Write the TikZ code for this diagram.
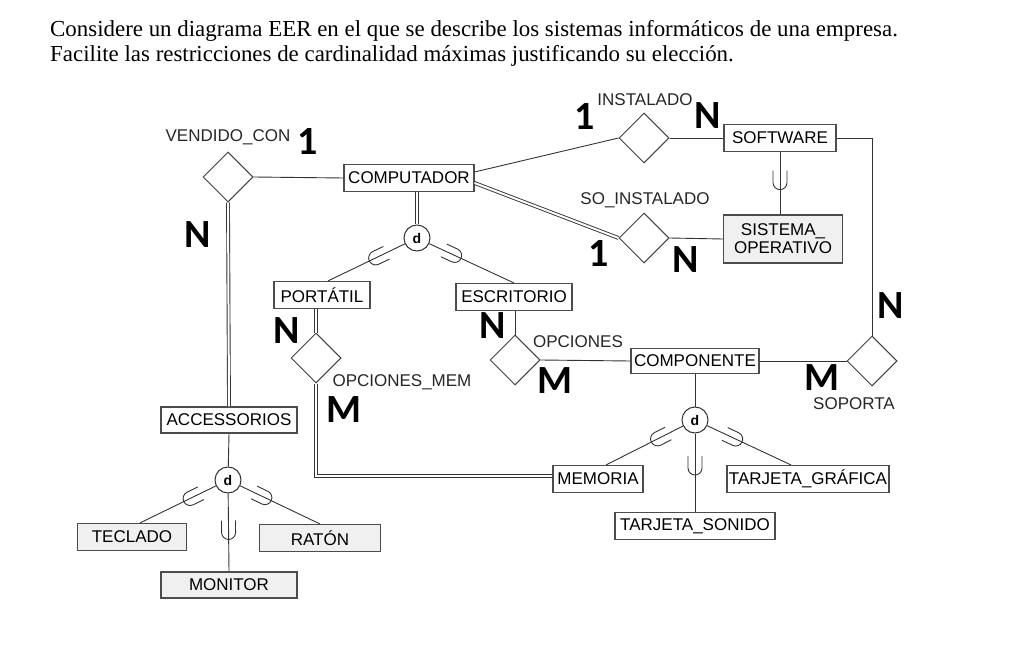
\documentclass[tikz,border=0pt]{standalone}
\usepackage{fontspec}
\setmainfont{Liberation Serif}
\newfontfamily\erfont{Liberation Sans}
\newfontfamily\cardfont{Carlito}
\usetikzlibrary{shapes.geometric}
\tikzset{
  ent/.style={rectangle,draw=black!70,line width=1.1pt,fill=white,inner sep=2pt,minimum height=27,font=\erfont\fontsize{17}{18}\selectfont},
  grey/.style={fill=black!6},
  rel/.style={diamond,draw=black!75,line width=1pt,fill=white,inner sep=0pt,minimum width=50,minimum height=50},
  spec/.style={circle,draw=black!80,line width=1pt,fill=white,inner sep=0pt,minimum size=26,font=\erfont\bfseries\fontsize{14}{14}\selectfont},
  lbl/.style={font=\erfont\fontsize{17}{18}\selectfont,text=black!85},
  card/.style={font=\cardfont\bfseries\fontsize{40}{40}\selectfont},
  link/.style={draw=black!80,line width=0.9pt},
  total/.style={link,double,double distance=2pt},
  subs/.pic={\draw[black!80,line width=0.9pt] (-12,7) -- (0,7) arc[start angle=90,end angle=-90,radius=7] -- (-12,-7);}
}

\begin{document}
\begin{tikzpicture}[x=1pt,y=-1pt,allow upside down]
\useasboundingbox (0,0) rectangle (1028,647);

% enunciado
\node[anchor=base west,inner sep=0pt,font=\fontsize{22.9}{25}\selectfont] (head1) at (50,37) {Considere un diagrama EER en el que se describe los sistemas informáticos de una empresa.};
\node[anchor=base west,inner sep=0pt,font=\fontsize{22.9}{25}\selectfont] (head2) at (50,62) {Facilite las restricciones de cardinalidad máximas justificando su elección.};

% entidades
\node[ent,minimum width=130] (COMPUTADOR) at (409,178) {COMPUTADOR};
\node[ent,minimum width=96] (PORTATIL) at (322,295) {PORTÁTIL};
\node[ent,minimum width=116] (ESCRITORIO) at (514,297) {ESCRITORIO};
\node[ent,minimum width=112] (SOFTWARE) at (780,138) {SOFTWARE};
\node[ent,grey,minimum width=119,minimum height=48,align=center] (SISTEMA) at (783,239) {SISTEMA\_\\OPERATIVO};
\node[ent,minimum width=128,minimum height=25] (COMPONENTE) at (695,361) {COMPONENTE};
\node[ent,minimum width=90] (MEMORIA) at (598,479) {MEMORIA};
\node[ent,minimum width=162] (GRAFICA) at (808,479) {TARJETA\_GRÁFICA};
\node[ent,minimum width=160] (SONIDO) at (695,526) {TARJETA\_SONIDO};
\node[ent,minimum width=136,minimum height=26] (ACCESSORIOS) at (229,420) {ACCESSORIOS};
\node[ent,grey,minimum width=109] (TECLADO) at (132,537) {TECLADO};
\node[ent,grey,minimum width=121] (RATON) at (320,538) {RATÓN};
\node[ent,grey,minimum width=136,minimum height=26] (MONITOR) at (229,585) {MONITOR};

% relaciones
\node[rel] (VENDIDO) at (228,177) {};
\node[rel] (INSTALADO) at (644,138) {};
\node[rel] (SOINST) at (644,238) {};
\node[rel] (OPCMEM) at (316,358) {};
\node[rel] (OPCIONES) at (515,360) {};
\node[rel] (SOPORTA) at (872,361) {};

\node[lbl] (lVENDIDO) at (228,137) {VENDIDO\_CON};
\node[lbl] (lINSTALADO) at (645,100) {INSTALADO};
\node[lbl] (lSOINST) at (645,200) {SO\_INSTALADO};
\node[lbl,anchor=west] (lOPCMEM) at (329,382) {OPCIONES\_MEM};
\node[lbl] (lOPCIONES) at (578,342) {OPCIONES};
\node[lbl] (lSOPORTA) at (854,404) {SOPORTA};

% especializaciones
\node[spec] (dC) at (417,238) {d};
\node[spec] (dK) at (695,420) {d};
\node[spec] (dA) at (228,480) {d};

% conexiones
\draw[link] (VENDIDO.east) -- (COMPUTADOR.west);
\draw[total] (VENDIDO.south) -- (ACCESSORIOS.north);
\draw[link] ([yshift=6pt]COMPUTADOR.east) -- (INSTALADO.west);
\draw[total] ([yshift=-5pt]COMPUTADOR.east) -- (SOINST.west);
\draw[link] (INSTALADO.east) -- (SOFTWARE.west);
\draw[link] (SOINST.east) -- (SISTEMA.west);
\draw[link] (SOFTWARE.east) -| (SOPORTA.north);
\draw[link] (SOFTWARE.south) -- pic[pos=.49,sloped]{subs} (SOFTWARE.south |- SISTEMA.north);

\draw[total] (COMPUTADOR.south -| dC) -- (dC);
\draw[link] (dC) -- pic[pos=.38,sloped]{subs} ([xshift=6pt]PORTATIL.north);
\draw[link] (dC) -- pic[pos=.30,sloped]{subs} (ESCRITORIO.north);

\draw[total] (PORTATIL.south -| OPCMEM) -- (OPCMEM.north);
\draw[total] (OPCMEM.south) |- ([yshift=3pt]MEMORIA.west);
\draw[link] (ESCRITORIO.south -| OPCIONES) -- (OPCIONES.north);
\draw[link] (OPCIONES.east) -- (COMPONENTE.west);
\draw[link] (COMPONENTE.east) -- (SOPORTA.west);

\draw[link] (COMPONENTE.south) -- (dK);
\draw[link] (dK) -- pic[pos=.33,sloped]{subs} ([xshift=8pt]MEMORIA.north);
\draw[link] (dK) -- pic[pos=.34,sloped]{subs} ([xshift=-17pt]GRAFICA.north);
\draw[link] (dK) -- pic[pos=.44,sloped]{subs} (SONIDO.north);

\draw[link] (ACCESSORIOS.south) -- (dA);
\draw[link] (dA) -- pic[pos=.34,sloped]{subs} ([xshift=8pt]TECLADO.north);
\draw[link] (dA) -- pic[pos=.31,sloped]{subs} (RATON.north);
\draw[link] (dA) -- pic[pos=.50,sloped]{subs} (MONITOR.north);

% cardinalidades
\node[card] (c1) at (308,142) {1};
\node[card] (c2) at (198,235) {N};
\node[card] (c3) at (585,117) {1};
\node[card] (c4) at (708,116) {N};
\node[card] (c5) at (599,254) {1};
\node[card] (c6) at (686,260) {N};
\node[card] (c7) at (891,306) {N};
\node[card] (c8) at (287,331) {N};
\node[card] (c9) at (344,410) {M};
\node[card] (c10) at (493,326) {N};
\node[card] (c11) at (555,381) {M};
\node[card] (c12) at (822,378) {M};
\end{tikzpicture}
\end{document}
